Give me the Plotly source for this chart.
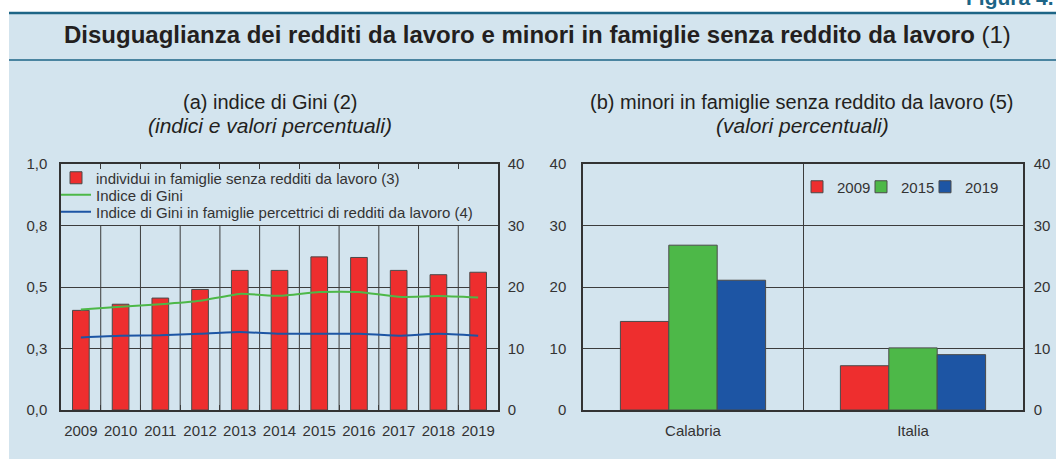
import plotly.graph_objects as go

# ---------------- data ----------------
years = ["2009", "2010", "2011", "2012", "2013", "2014", "2015", "2016", "2017", "2018", "2019"]
no_work_income = [16.2, 17.2, 18.2, 19.6, 22.7, 22.7, 24.9, 24.8, 22.7, 22.0, 22.4]
gini_index = [0.409, 0.420, 0.430, 0.444, 0.472, 0.464, 0.480, 0.480, 0.460, 0.463, 0.457]
gini_working = [0.295, 0.302, 0.304, 0.310, 0.317, 0.310, 0.310, 0.310, 0.302, 0.310, 0.302]

regions = ["Calabria", "Italia"]
minors_2009 = [14.4, 7.2]
minors_2015 = [26.8, 10.1]
minors_2019 = [21.1, 9.0]

left_ticks = [0, 0.25, 0.5, 0.75, 1.0]
left_ticktext = ["0,0", "0,3", "0,5", "0,8", "1,0"]
right_ticks = [0, 10, 20, 30, 40]

# ---------------- style ----------------
W, H = 1056, 459
FONT = "Liberation Sans, Arial, Helvetica, sans-serif"
BG = "#D3E4EE"
TEAL = "#1D6586"
RED = "#EE2E2E"
GREEN = "#4DB848"
BLUE = "#1D55A4"
EDGE = "#4a4a4a"
GRID = "#3c3c3c"
TXT = "#333333"


def px(x):
    return x / W


def py(y):
    return 1 - y / H


fig = go.Figure()

# left panel: bars (right axis 0-40) + lines (left axis 0-1)
fig.add_trace(go.Bar(
    x=years, y=no_work_income, name="individui in famiglie senza redditi da lavoro (3)",
    marker=dict(color=RED, line=dict(color=EDGE, width=1)), width=0.42,
    xaxis="x", yaxis="y", legend="legend"))
fig.add_trace(go.Scatter(
    x=years, y=gini_index, name="Indice di Gini", mode="lines",
    line=dict(color=GREEN, width=2, shape="spline", smoothing=0.5),
    xaxis="x", yaxis="y2", legend="legend3"))
fig.add_trace(go.Scatter(
    x=years, y=gini_working, name="Indice di Gini in famiglie percettrici di redditi da lavoro (4)",
    mode="lines", line=dict(color=BLUE, width=2, shape="spline", smoothing=0.5),
    xaxis="x", yaxis="y2", legend="legend4"))

# right panel
right_series = [("2009", minors_2009, RED, "legend2"),
                ("2015", minors_2015, GREEN, "legend5"),
                ("2019", minors_2019, BLUE, "legend6")]
for name, vals, col, leg in right_series:
    fig.add_trace(go.Bar(
        x=regions, y=vals, name=name,
        marker=dict(color=col, line=dict(color=EDGE, width=1)),
        xaxis="x3", yaxis="y3", legend=leg))
# invisible helper so that the right-hand axis of panel (b) is drawn
fig.add_trace(go.Scatter(x=regions, y=[None] * len(regions), mode="lines", showlegend=False,
                         hoverinfo="skip", xaxis="x3", yaxis="y4"))

tickfont = dict(family=FONT, size=15, color=TXT)

shapes = [
    dict(type="rect", xref="paper", yref="paper", x0=px(9), x1=1, y0=0, y1=py(13),
         fillcolor=BG, line=dict(width=0), layer="below"),
    dict(type="line", xref="paper", yref="paper", x0=px(9), x1=1, y0=py(13), y1=py(13),
         line=dict(color=TEAL, width=2.5), layer="below"),
    dict(type="line", xref="paper", yref="paper", x0=px(9), x1=1, y0=py(60), y1=py(60),
         line=dict(color=TEAL, width=1.5), layer="below"),
]
for i in range(len(years) - 1):
    shapes.append(dict(type="line", xref="x", yref="y", x0=i + 0.5, x1=i + 0.5,
                       y0=right_ticks[0], y1=right_ticks[3],
                       line=dict(color=GRID, width=1), layer="below"))

annotations = [
    dict(text="<b>Disuguaglianza dei redditi da lavoro e minori in famiglie senza reddito da lavoro</b> (1)",
         xref="paper", yref="paper", x=px(537), y=py(34), xanchor="center", yanchor="middle",
         showarrow=False, font=dict(family=FONT, size=24, color="#231F20")),
    dict(text="<b>Figura 4.</b>", xref="paper", yref="paper", x=1.0, y=py(-3),
         xanchor="right", yanchor="middle", showarrow=False,
         font=dict(family=FONT, size=21, color=TEAL)),
    dict(text="(a) indice di Gini (2)", xref="paper", yref="paper", x=px(270), y=py(102),
         xanchor="center", yanchor="middle", showarrow=False,
         font=dict(family=FONT, size=20, color="#231F20")),
    dict(text="<i>(indici e valori percentuali)</i>", xref="paper", yref="paper", x=px(270), y=py(125),
         xanchor="center", yanchor="middle", showarrow=False,
         font=dict(family=FONT, size=21, color="#231F20")),
    dict(text="(b) minori in famiglie senza reddito da lavoro (5)", xref="paper", yref="paper",
         x=px(802), y=py(102), xanchor="center", yanchor="middle", showarrow=False,
         font=dict(family=FONT, size=20, color="#231F20")),
    dict(text="<i>(valori percentuali)</i>", xref="paper", yref="paper", x=px(802), y=py(125),
         xanchor="center", yanchor="middle", showarrow=False,
         font=dict(family=FONT, size=21, color="#231F20")),
]

dom_y = [py(410), py(164)]
legfont = dict(family=FONT, size=15, color=TXT)


def legend_at(xleft, ycenter):
    return dict(x=px(xleft), y=py(ycenter), xanchor="left", yanchor="middle", orientation="v",
                bgcolor="rgba(0,0,0,0)", borderwidth=0, font=legfont, itemwidth=30)


fig.update_layout(
    width=W, height=H, autosize=False,
    margin=dict(l=0, r=0, t=0, b=0, autoexpand=False),
    paper_bgcolor="white", plot_bgcolor="white",
    font=dict(family=FONT, size=15, color=TXT),
    barmode="group", bargap=0.34, bargroupgap=0,
    showlegend=True,
    shapes=shapes, annotations=annotations,
    xaxis=dict(domain=[px(61), px(498)], anchor="y", type="category",
               tickson="boundaries", showgrid=False, tickangle=0,
               ticks="inside", ticklen=5, tickcolor=GRID, mirror="ticks",
               showline=True, linecolor="#333", linewidth=1.5,
               tickfont=tickfont, ticklabelstandoff=6, fixedrange=True),
    yaxis=dict(domain=dom_y, anchor="x", side="right", range=[0, 40], tickvals=right_ticks,
               showgrid=True, gridcolor=GRID, gridwidth=1, zeroline=False,
               showline=True, linecolor="#333", linewidth=1.5,
               ticks="", tickfont=tickfont, ticklabelstandoff=5, fixedrange=True),
    yaxis2=dict(overlaying="y", anchor="x", side="left", range=[0, 1],
                tickvals=left_ticks, ticktext=left_ticktext,
                showgrid=False, zeroline=False, showline=True, linecolor="#333", linewidth=1.5,
                ticks="", tickfont=tickfont, ticklabelstandoff=9, fixedrange=True),
    xaxis3=dict(domain=[px(583), px(1023)], anchor="y3", type="category",
                tickson="boundaries", showgrid=True, gridcolor=GRID, gridwidth=1, tickangle=0,
                ticks="", showline=True, linecolor="#333", linewidth=1.5, mirror=True,
                tickfont=tickfont, ticklabelstandoff=6, fixedrange=True),
    yaxis3=dict(domain=dom_y, anchor="x3", side="left", range=[0, 40], tickvals=right_ticks,
                showgrid=True, gridcolor=GRID, gridwidth=1, zeroline=False,
                showline=True, linecolor="#333", linewidth=1.5,
                ticks="", tickfont=tickfont, ticklabelstandoff=12, fixedrange=True),
    yaxis4=dict(overlaying="y3", anchor="x3", side="right", range=[0, 40], tickvals=right_ticks,
                showgrid=False, zeroline=False, showline=True, linecolor="#333", linewidth=1.5,
                ticks="", tickfont=tickfont, ticklabelstandoff=6, fixedrange=True),
    legend=legend_at(56, 178),
    legend3=legend_at(56, 195),
    legend4=legend_at(56, 212),
    legend2=legend_at(797, 187),
    legend5=legend_at(861, 187),
    legend6=legend_at(925, 187),
)

fig.write_html("out.html", config={"displayModeBar": False},
               post_script="document.body.style.margin='0';document.body.style.overflow='hidden';")
